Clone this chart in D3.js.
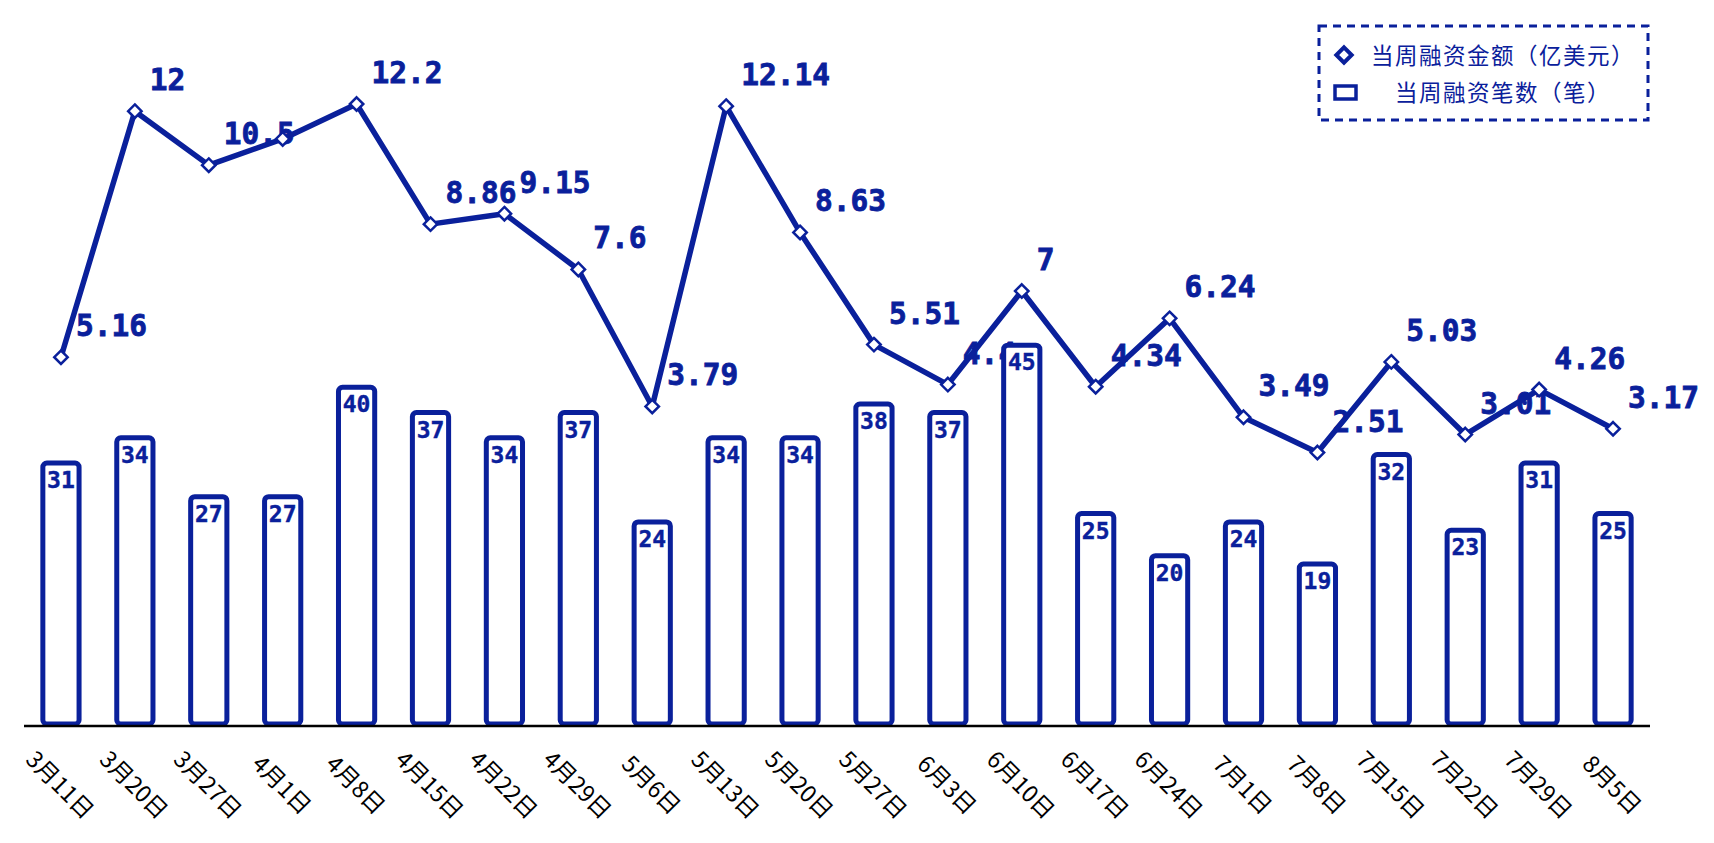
<!DOCTYPE html>
<html>
<head>
<meta charset="utf-8">
<script src="https://cdn.jsdelivr.net/npm/d3@7/dist/d3.min.js"></script>
<style>
  body { margin: 0; background: #fff; }
  svg { display: block; }
</style>
</head>
<body>
<div id="chart"></div>
<script>
// weekly financing: amount (line) and deal count (bars)

const weeks = ["3月11日","3月20日","3月27日","4月1日","4月8日","4月15日","4月22日","4月29日","5月6日","5月13日","5月20日","5月27日","6月3日","6月10日","6月17日","6月24日","7月1日","7月8日","7月15日","7月22日","7月29日","8月5日"];
const amounts = [5.16, 12, 10.5, 11.23, 12.2, 8.86, 9.15, 7.6, 3.79, 12.14, 8.63, 5.51, 4.4, 7, 4.34, 6.24, 3.49, 2.51, 5.03, 3.01, 4.26, 3.17];
const amountLabels = ["5.16","12","10.5",null,"12.2","8.86","9.15","7.6","3.79","12.14","8.63","5.51","4.4","7","4.34","6.24","3.49","2.51","5.03","3.01","4.26","3.17"];
const counts = [31, 34, 27, 27, 40, 37, 34, 37, 24, 34, 34, 38, 37, 45, 25, 20, 24, 19, 32, 23, 31, 25];
const legendNames = ["当周融资金额（亿美元）", "当周融资笔数（笔）"];

const width = 1714, height = 843;
const blue = "#0a209b";
const numFont = "'DejaVu Sans Mono', monospace";
const cjkFont = "'Noto Sans CJK SC', 'Noto Sans', sans-serif";

const svg = d3.select("#chart").append("svg")
    .attr("width", width)
    .attr("height", height);

const x = d3.scaleBand()
    .domain(weeks)
    .range([24, 1650])
    .paddingInner(0.51)
    .paddingOuter(0.255);

const yBar = d3.scaleLinear()
    .domain([0, 86])
    .range([724, 0]);

const yLine = d3.scaleLinear()
    .domain([0, 15])
    .range([542.8, 3.3]);

const cx = d => x(d) + x.bandwidth() / 2;

// line labels sit under everything else
svg.append("g")
  .selectAll("text")
  .data(weeks.map((w, i) => ({w, v: amounts[i], t: amountLabels[i]})).filter(d => d.t))
  .join("text")
    .attr("x", d => cx(d.w) + 15)
    .attr("y", d => yLine(d.v) - 21)
    .attr("fill", blue)
    .attr("stroke", blue)
    .attr("stroke-width", 0.8)
    .attr("font-family", numFont)
    .attr("font-weight", "bold")
    .attr("font-size", 29.5)
    .text(d => d.t);

// line
const line = d3.line()
    .x((d, i) => cx(weeks[i]))
    .y(d => yLine(d));

svg.append("path")
    .datum(amounts)
    .attr("d", line)
    .attr("fill", "none")
    .attr("stroke", blue)
    .attr("stroke-width", 5.5)
    .attr("stroke-linejoin", "round");

svg.append("g")
  .selectAll("path")
  .data(amounts)
  .join("path")
    .attr("d", d3.symbol(d3.symbolDiamond2, 115))
    .attr("transform", (d, i) => `translate(${cx(weeks[i])},${yLine(d)})`)
    .attr("fill", "#fff")
    .attr("stroke", blue)
    .attr("stroke-width", 2.5);

// bars
const bars = svg.append("g");
bars.selectAll("rect")
  .data(counts)
  .join("rect")
    .attr("x", (d, i) => x(weeks[i]))
    .attr("y", d => yBar(d))
    .attr("width", x.bandwidth())
    .attr("height", d => yBar(0) - yBar(d))
    .attr("rx", 4)
    .attr("fill", "#fff")
    .attr("stroke", blue)
    .attr("stroke-width", 5);

bars.selectAll("text")
  .data(counts)
  .join("text")
    .attr("x", (d, i) => cx(weeks[i]))
    .attr("y", d => yBar(d) + 25)
    .attr("text-anchor", "middle")
    .attr("fill", blue)
    .attr("stroke", blue)
    .attr("stroke-width", 0.4)
    .attr("font-family", numFont)
    .attr("font-weight", "bold")
    .attr("font-size", 23)
    .text(d => d);

// x axis
svg.append("line")
    .attr("x1", 24).attr("x2", 1650)
    .attr("y1", yBar(0) + 2).attr("y2", yBar(0) + 2)
    .attr("stroke", "#000")
    .attr("stroke-width", 2.5);

svg.append("g")
  .selectAll("text")
  .data(weeks)
  .join("text")
    .attr("transform", d => `translate(${cx(d) - 1},${785}) rotate(45)`)
    .attr("text-anchor", "middle")
    .attr("dy", "0.35em")
    .attr("font-family", cjkFont)
    .attr("font-size", 23)
    .attr("fill", "#000")
    .text(d => d);

// legend
const legend = svg.append("g");
legend.append("rect")
    .attr("x", 1319).attr("y", 26)
    .attr("width", 329).attr("height", 94)
    .attr("fill", "#fff")
    .attr("stroke", blue)
    .attr("stroke-width", 3)
    .attr("stroke-dasharray", "8,6");

legend.append("path")
    .attr("d", d3.symbol(d3.symbolDiamond2, 150))
    .attr("transform", "translate(1344,55)")
    .attr("fill", "#fff")
    .attr("stroke", blue)
    .attr("stroke-width", 4);

legend.append("rect")
    .attr("x", 1335).attr("y", 86)
    .attr("width", 21).attr("height", 13)
    .attr("fill", "#fff")
    .attr("stroke", blue)
    .attr("stroke-width", 3.5);

legend.selectAll("text.lg")
  .data(legendNames)
  .join("text")
    .attr("class", "lg")
    .attr("x", 1503)
    .attr("y", (d, i) => 56 + i * 37)
    .attr("dy", "0.35em")
    .attr("text-anchor", "middle")
    .attr("font-family", cjkFont)
    .attr("font-size", 22.5)
    .attr("letter-spacing", 1.5)
    .attr("fill", blue)
    .text(d => d);
</script>
</body>
</html>
